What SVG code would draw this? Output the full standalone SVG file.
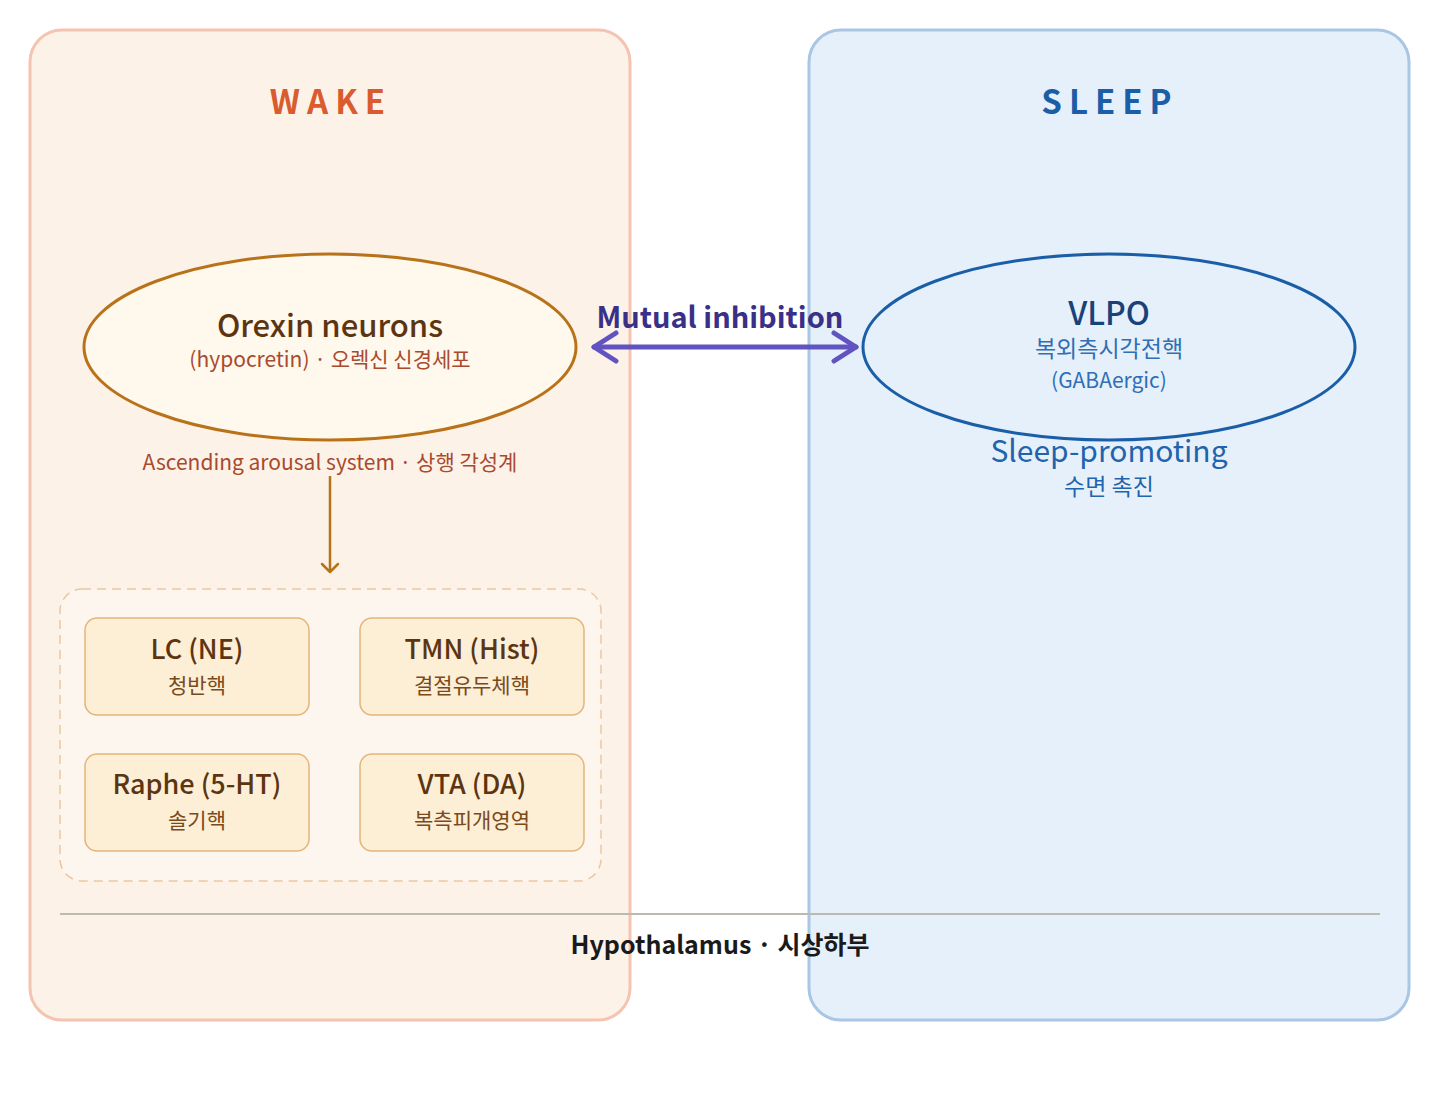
<svg xmlns="http://www.w3.org/2000/svg" width="1440" height="1102" viewBox="0 0 1440 1102">
<defs>
<style>
text{font-family:"Noto Sans CJK KR","Noto Sans",sans-serif;text-anchor:middle}
.panelW{fill:#fdf2e8;stroke:#f5c4b0;stroke-width:3}
.panelS{fill:#e6f0fa;stroke:#a9c6e4;stroke-width:3}
.ttl{font-size:33px;font-weight:700;letter-spacing:7px}
.box{fill:#fdeed6;stroke:#e3b57c;stroke-width:1.5}
.bt{font-size:27px;font-weight:500;fill:#5c3510}
.bs{font-size:21px;fill:#7a4a1a}
</style>
<marker id="ah" viewBox="0 0 20 20" refX="17" refY="10" markerWidth="20" markerHeight="20" markerUnits="userSpaceOnUse" orient="auto">
<path d="M9,2 L17,10 L9,18" fill="none" stroke="#b8731a" stroke-width="2.5" stroke-linecap="round" stroke-linejoin="round"/>
</marker>
</defs>
<rect width="1440" height="1102" fill="#ffffff"/>
<g id="wake-panel">
<rect class="panelW" x="30" y="30" width="600" height="990" rx="32"/>
<text class="ttl" x="331" y="114" fill="#d95b2e">WAKE</text>
</g>
<g id="sleep-panel">
<rect class="panelS" x="809" y="30" width="600" height="990" rx="32"/>
<text class="ttl" x="1110" y="114" fill="#1b5ea8">SLEEP</text>
</g>
<g id="hypothalamus">
<line x1="60" y1="914" x2="1380" y2="914" stroke="#bdb8b0" stroke-width="2"/>
<text x="720" y="954" font-size="25" font-weight="700" fill="#1a1a1a">Hypothalamus · 시상하부</text>
</g>
<g id="orexin">
<ellipse cx="330" cy="347" rx="246" ry="93" fill="#fff8ec" stroke="#b8731a" stroke-width="3"/>
<text x="330" y="337" font-size="31" font-weight="500" fill="#5c3510">Orexin neurons</text>
<text x="330" y="367" font-size="21" fill="#a84a2e">(hypocretin) · 오렉신 신경세포</text>
</g>
<g id="arousal-label">
<text x="330" y="470" font-size="21" fill="#a84a2e">Ascending arousal system · 상행 각성계</text>
</g>
<g id="arousal-group">
<rect x="60" y="589" width="541" height="292" rx="22" fill="#fdf6ee" stroke="#eac7a0" stroke-width="1.5" stroke-dasharray="9 6"/>
</g>
<g id="lc">
<rect class="box" x="85" y="618" width="224" height="97" rx="12"/>
<text class="bt" x="197" y="659">LC (NE)</text>
<text class="bs" x="197" y="693">청반핵</text>
</g>
<g id="tmn">
<rect class="box" x="360" y="618" width="224" height="97" rx="12"/>
<text class="bt" x="472" y="659">TMN (Hist)</text>
<text class="bs" x="472" y="693">결절유두체핵</text>
</g>
<g id="raphe">
<rect class="box" x="85" y="754" width="224" height="97" rx="12"/>
<text class="bt" x="197" y="794">Raphe (5-HT)</text>
<text class="bs" x="197" y="828">솔기핵</text>
</g>
<g id="vta">
<rect class="box" x="360" y="754" width="224" height="97" rx="12"/>
<text class="bt" x="472" y="794">VTA (DA)</text>
<text class="bs" x="472" y="828">복측피개영역</text>
</g>
<g id="vlpo">
<ellipse cx="1109" cy="347" rx="246" ry="93" fill="#e6f0fa" stroke="#1b5ea8" stroke-width="3"/>
<text x="1109" y="325" font-size="32" font-weight="500" fill="#17427a">VLPO</text>
<text x="1109" y="357" font-size="23" fill="#2f6fb5">복외측시각전핵</text>
<text x="1109" y="388" font-size="21" fill="#2f6fb5">(GABAergic)</text>
</g>
<g id="sleep-promoting">
<text x="1109" y="462" font-size="30" fill="#1f64ad">Sleep-promoting</text>
<text x="1109" y="495" font-size="23" fill="#1f64ad">수면 촉진</text>
</g>
<g id="connectors">
<line x1="330" y1="476" x2="330" y2="572" stroke="#b8731a" stroke-width="2.5" marker-end="url(#ah)"/>
<line x1="594" y1="347" x2="856" y2="347" stroke="#6254c0" stroke-width="5" stroke-linecap="round"/>
<path d="M616,333 L594,347 L616,361 M834,333 L856,347 L834,361" fill="none" stroke="#6254c0" stroke-width="5" stroke-linecap="round" stroke-linejoin="round"/>
<text x="720" y="328" font-size="29" font-weight="700" fill="#3a3088">Mutual inhibition</text>
</g>
</svg>
